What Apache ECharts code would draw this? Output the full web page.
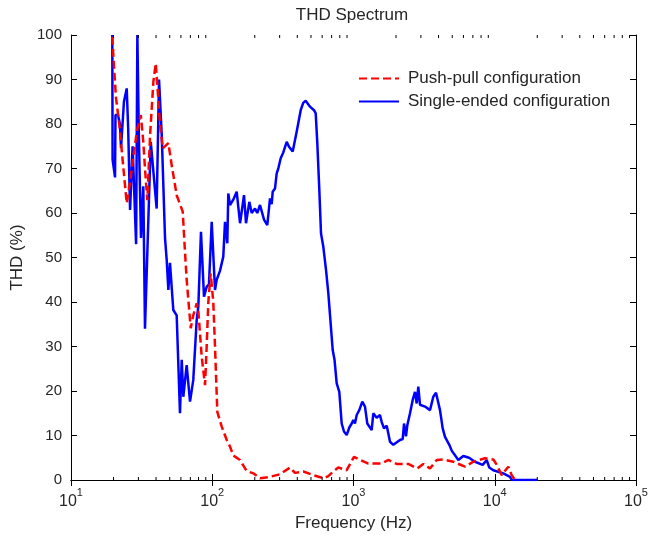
<!DOCTYPE html>
<html><head><meta charset="utf-8">
<script src="https://cdn.jsdelivr.net/npm/echarts@6/dist/echarts.min.js"></script>
<style>html,body{margin:0;padding:0;background:#fff}#c{width:649px;height:538px}</style>
</head><body><div id="c"></div>
<script>
// ---- data ----
const seriesNames = ['Push-pull configuration', 'Single-ended configuration'];

const pushPullFreq = [19.6, 20.15, 20.8, 22.0, 23.5, 24.8, 26.2, 27.7, 29.5, 31.2,
  32.5, 33.4, 34.7, 36.3, 38.3, 39.8, 41.0, 42.7, 44.6, 48.9,
  51.6, 56.0, 61.8, 64.1, 65.9, 70.4, 73.4, 77.6, 79.7, 84.2,
  88.9, 91.3, 93.8, 97.5, 101.7, 104.6, 108.6, 116.7, 126.6, 133.6,
  140.9, 157.3, 175.4, 195.3, 217.8, 256.4, 301.7, 355.2, 385.2, 441.2,
  519.4, 611.4, 660, 719.5, 780.6, 895, 1008, 1112, 1273, 1584,
  1763, 2022, 2443, 2830, 3120, 3480, 3881, 4322, 5087, 6158,
  7049, 8531, 9765, 10290, 11200, 12477, 13183, 13913];
const pushPullTHD = [99.6, 93, 86, 79.8, 70, 62.2, 67, 73, 79, 82,
  76, 70, 62.9, 77.5, 89.5, 93.6, 88, 79.8, 74.5, 75.7,
  70.8, 64, 60.3, 51.3, 45, 34.1, 37, 39.7, 38, 27.7,
  21.3, 30, 40, 46.4, 40, 30, 15.3, 12, 9, 7.5,
  5.5, 4.5, 2, 1.5, 0.4, 0.7, 1.3, 2.8, 1.6, 1.9,
  1.1, 0.4, 0.8, 1.9, 2.8, 2.2, 5.2, 4.5, 3.7, 3.7,
  4.5, 3.6, 3.6, 2.6, 3.6, 2.6, 4.5, 4.6, 4.1, 3,
  4.1, 4.9, 4.6, 3.5, 1.1, 3, 1.1, 0];

const singleEndedFreq = [19.6, 19.7, 20.5, 20.65, 21.5, 22.2, 22.6, 23.7, 24.8, 25.4,
  26.2, 27.3, 27.9, 28.9, 29.5, 30.2, 31.3, 32.5, 33.4, 36.7,
  40.4, 42.0, 43.9, 46.3, 47.6, 48.9, 50.2, 53.0, 56.0, 59.1,
  60.8, 62.4, 65.9, 69.6, 73.4, 77.6, 79.7, 83.2, 87.4, 91.3,
  94.8, 99.1, 104.6, 107.5, 113.4, 119.7, 123.1, 127.8, 129.9, 133.6,
  140.9, 148.9, 157.3, 167.8, 173.4, 183.0, 190.3, 200.7, 208.4, 217.8,
  232.5, 245.3, 256.4, 263.6, 267.9, 278.1, 285.9, 293.5, 305.2, 318.4,
  336.6, 349.5, 371.2, 396.2, 422.9, 441.2, 458.8, 492.0, 525.3, 540.1,
  554.4, 572.8, 588.9, 611.4, 638.9, 663.3, 712.5, 734, 760.4, 793.3,
  824.9, 856.4, 895.0, 934, 971.2, 996.8, 1024.7, 1053.6, 1099.2, 1154.1,
  1206, 1252, 1345, 1381, 1459, 1540, 1584, 1644, 1718, 1763,
  1813, 1913, 2134, 2230, 2278, 2353, 2404, 2512, 2625, 2725,
  2802, 2876, 2957, 3208, 3480, 3673, 3838, 3965, 4096, 4281,
  4444, 4767, 4957, 5521, 5990, 6573, 7248, 8215, 8770, 9150,
  9765, 11494, 12823, 13183, 20000];
const singleEndedTHD = [100, 72, 68, 82, 82, 80, 74.6, 85, 88, 79,
  60.7, 75, 75, 53, 100, 78, 54.4, 66, 34, 76,
  61, 90, 77.5, 54.4, 49.4, 42.7, 48.8, 38.2, 37, 15,
  27, 18.7, 25.8, 17.6, 22.5, 36, 39, 55.8, 41.2, 43.4,
  44, 58, 42.7, 45, 47, 50.2, 58, 53.2, 64.4, 61.8,
  63, 64.8, 57.7, 64, 57.7, 62.5, 60, 61, 60, 61.8,
  58.5, 57.3, 63.3, 62, 64.8, 65.5, 68.9, 70, 72.3, 73.6,
  76, 74.9, 73.8, 78.3, 83.1, 84.8, 85.2, 83.9, 83.1, 82.4,
  75.7, 65.2, 55.4, 52.4, 47.2, 42, 29.2, 27, 21.7, 19.8,
  12.7, 10.9, 10.1, 11.8, 12.7, 13.5, 12.7, 14.6, 15.7, 17.6,
  16.5, 12.7, 11.2, 15, 14, 14.6, 13, 11.6, 12.2, 10.5,
  8.6, 7.9, 9, 9.2, 12.7, 9.8, 12.3, 15, 18, 19.8,
  17.2, 21, 16.9, 16.5, 15.7, 18.7, 19.6, 19.5, 15.7, 11.6,
  9.7, 7.9, 6.6, 4.5, 5.4, 5, 4.1, 3.4, 4.5, 2.8,
  2.2, 1.5, 0.7, 0, 0];

const xMin = 10, xMax = 100000;
const yMin = 0, yMax = 100, yStep = 10;
const decadeExps = [1, 2, 3, 4];
const minorMultipliers = [2, 3, 4, 5, 6, 7, 8, 9];

// ---- build ----
const zip = (a, b) => a.map((v, i) => [v, b[i]]);
const minorTicks = [];
decadeExps.forEach(e => minorMultipliers.forEach(m => minorTicks.push([m * Math.pow(10, e), 0])));

const FONT = "'Liberation Sans', Arial, Helvetica, sans-serif";
const TXT = '#262626';

const chart = echarts.init(document.getElementById('c'), null, {renderer: 'canvas'});
const logAxisBase = {
  type: 'log', logBase: 10, min: xMin, max: xMax,
  axisLine: {show: true, lineStyle: {color: '#000', width: 1}},
  axisTick: {show: true, inside: true, length: 6, lineStyle: {color: '#000'}},
  splitLine: {show: false}, minorTick: {show: false}
};
const valAxisBase = {
  type: 'value', min: yMin, max: yMax, interval: yStep,
  axisLine: {show: true, lineStyle: {color: '#000', width: 1}},
  axisTick: {show: true, inside: true, length: 6, lineStyle: {color: '#000'}},
  splitLine: {show: false}
};

chart.setOption({
  animation: false,
  backgroundColor: '#fff',
  textStyle: {fontFamily: FONT},
  title: {
    text: 'THD Spectrum', left: 352, top: 7, padding: 0, textAlign: 'center',
    textStyle: {fontFamily: FONT, fontSize: 17, fontWeight: 'normal', color: TXT}
  },
  legend: {
    orient: 'vertical', left: 353, top: 65, itemWidth: 40, itemHeight: 14, itemGap: 6,
    itemStyle: {opacity: 0},
    textStyle: {fontFamily: FONT, fontSize: 17, color: TXT, padding: [0, 0, 0, 4]},
    data: seriesNames
  },
  grid: {left: 71, right: 13, top: 35, bottom: 58, containLabel: false, outerBoundsMode: 'none'},
  xAxis: [
    Object.assign({}, logAxisBase, {
      position: 'bottom',
      name: 'Frequency (Hz)', nameLocation: 'middle', nameGap: 33,
      nameTextStyle: {fontFamily: FONT, fontSize: 17, color: TXT},
      axisLabel: {
        show: true, margin: 7, color: TXT,
        formatter: v => '{b|10}{s|' + Math.round(Math.log10(v)) + '}',
        rich: {
          b: {fontFamily: FONT, fontSize: 16, color: TXT, lineHeight: 23, verticalAlign: 'bottom'},
          s: {fontFamily: FONT, fontSize: 11, color: TXT, lineHeight: 23, verticalAlign: 'top'}
        }
      }
    }),
    Object.assign({}, logAxisBase, {position: 'top', axisLabel: {show: false}})
  ],
  yAxis: [
    Object.assign({}, valAxisBase, {
      position: 'left',
      name: 'THD (%)', nameLocation: 'middle', nameGap: 43,
      nameTextStyle: {fontFamily: FONT, fontSize: 17, color: TXT},
      axisLabel: {show: true, margin: 9, fontFamily: FONT, fontSize: 15, color: TXT}
    }),
    Object.assign({}, valAxisBase, {position: 'right', axisLabel: {show: false}})
  ],
  series: [
    {
      name: seriesNames[0], type: 'line', xAxisIndex: 0, yAxisIndex: 0,
      data: zip(pushPullFreq, pushPullTHD), showSymbol: false, symbol: 'none',
      lineStyle: {color: '#ff0000', width: 2.5, type: [8, 4]}, itemStyle: {color: '#ff0000'},
      z: 3
    },
    {
      name: seriesNames[1], type: 'line', xAxisIndex: 0, yAxisIndex: 0,
      data: zip(singleEndedFreq, singleEndedTHD), showSymbol: false, symbol: 'none',
      lineStyle: {color: '#0000ff', width: 2.5, type: 'solid'}, itemStyle: {color: '#0000ff'},
      z: 2
    },
    {
      name: 'minorTicks', type: 'custom', xAxisIndex: 0, yAxisIndex: 0, silent: true,
      data: minorTicks, encode: {x: 0, y: 1},
      renderItem: (params, api) => {
        const pb = api.coord([api.value(0), yMin]);
        const pt = api.coord([api.value(0), yMax]);
        return {type: 'group', children: [
          {type: 'line', shape: {x1: pb[0], y1: pb[1], x2: pb[0], y2: pb[1] - 3}, style: {stroke: '#000', lineWidth: 1}},
          {type: 'line', shape: {x1: pt[0], y1: pt[1], x2: pt[0], y2: pt[1] + 3}, style: {stroke: '#000', lineWidth: 1}}
        ]};
      },
      z: 5
    }
  ]
});
</script></body></html>
